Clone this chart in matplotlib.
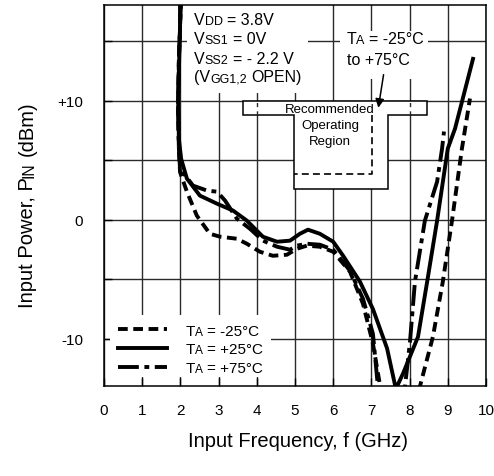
import matplotlib
matplotlib.use('Agg')
import matplotlib.pyplot as plt
from matplotlib.patches import Polygon, Rectangle
from matplotlib.transforms import IdentityTransform

plt.rcParams['font.family'] = 'Liberation Sans'
plt.rcParams['lines.scale_dashes'] = False

# Input sensitivity curves (GHz, dBm)
freq_m25 = [2.02, 1.96, 1.94, 1.96, 1.99, 2.17, 2.43, 2.77, 3.04, 3.48, 3.74, 4.08, 4.42,
            4.79, 5.05, 5.31, 5.65, 6.0, 6.44, 6.78, 7.04, 7.23, 7.7, 8.27, 8.61, 8.87,
            9.11, 9.37, 9.58]
pin_m25 = [18.6, 13.5, 9.3, 6.0, 4.0, 2.35, 0.34, -1.18, -1.43, -1.6, -2.02, -2.69, -3.03,
           -2.94, -2.44, -2.18, -2.27, -2.69, -4.37, -7.06, -10.4, -14.0, -17.0, -14.0,
           -9.83, -5.2, -0.08, 5.97, 10.17]

freq_p25 = [1.99, 1.99, 1.94, 1.96, 2.02, 2.17, 2.51, 2.96, 3.38, 3.74, 4.16, 4.53, 4.87,
            5.13, 5.34, 5.65, 6.0, 6.26, 6.70, 7.04, 7.41, 7.64, 7.83, 8.22, 8.46, 8.72,
            9.0, 9.19, 9.66]
pin_p25 = [18.6, 16.05, 10.17, 6.8, 5.1, 3.45, 2.02, 1.34, 0.76, -0.08, -1.43, -1.85, -1.76,
           -1.18, -0.84, -1.18, -1.85, -3.03, -5.2, -7.5, -10.8, -14.2, -12.9, -9.83, -5.2,
           -0.08, 5.97, 7.65, 13.5]

freq_p75 = [2.02, 1.96, 1.94, 1.96, 1.99, 2.33, 2.70, 2.96, 3.17, 3.48, 3.82, 4.16, 4.53,
            4.87, 5.05, 5.31, 5.65, 6.0, 6.44, 6.78, 7.04, 7.17, 7.5, 7.88, 8.01, 8.14,
            8.40, 8.72, 8.85, 8.90]
pin_p75 = [18.6, 13.5, 9.3, 6.0, 4.29, 2.86, 2.44, 2.35, 1.6, 0.08, -0.76, -1.76, -2.27,
           -2.52, -2.18, -2.02, -2.1, -2.52, -4.29, -6.64, -9.58, -14.0, -17.0, -14.0,
           -10.25, -5.2, -0.08, 3.19, 5.97, 7.4]

temps = ['-25', '+25', '+75']
freq_ticks = list(range(11))
pin_ticks = [-10, 0, 10]
pin_ticklabels = ['-10', '0', '+10']

# recommended operating region (T-shaped box) and the dashed inner window
rec_bar = (3.64, 8.46, 8.82, 10.0)
rec_stem = (4.97, 7.43, 2.6, 8.82)
rec_inner = (7.02, 3.87)

DASHED = (0, (7, 4))
DASHDOT = (0, (15, 4, 3.5, 4))
LW = 2.8


def rich_text(ax, x, y, parts, size, transform, ha='left', rotation=0):
    """Draw text made of pieces of different size (small caps subscripts)."""
    fig = ax.figure
    r = fig.canvas.get_renderer()

    def text_width(s, fs):
        t = fig.text(0, 0, s, fontsize=fs)
        w = t.get_window_extent(r).width
        t.remove()
        return w

    space = text_width('a a', size) - text_width('aa', size)
    items = []
    for s, k in parts:
        lead = len(s) - len(s.lstrip(' '))
        body = s.strip(' ')
        items.append((lead * space, body, size * k, text_width(body, size * k)))
    total = sum(g + w for g, _, _, w in items)
    x0, y0 = transform.transform((x, y))
    pos = {'left': 0, 'center': -total / 2, 'right': -total}[ha]
    for g, body, fs, w in items:
        pos += g
        px, py = (x0 + pos, y0) if rotation == 0 else (x0, y0 + pos)
        ax.text(px, py, body, fontsize=fs, transform=IdentityTransform(), ha='left',
                va='baseline', rotation=rotation, rotation_mode='anchor', zorder=6)
        pos += w


fig = plt.figure(figsize=(4.94, 4.77), dpi=100)
ax = fig.add_axes([104 / 494, 1 - 387 / 477, 382 / 494, 381 / 477])
ax.set_xlim(0, 10)
ax.set_ylim(-13.96, 18.02)

l1, = ax.plot(freq_m25, pin_m25, color='black', lw=LW, linestyle=DASHED, zorder=3)
l2, = ax.plot(freq_p25, pin_p25, color='black', lw=LW, zorder=3)
l3, = ax.plot(freq_p75, pin_p75, color='black', lw=LW, linestyle=DASHDOT, zorder=3)

# grid and axes
ax.set_axisbelow(True)
ax.set_xticks(freq_ticks)
ax.set_yticks(pin_ticks)
ax.set_yticklabels(pin_ticklabels)
ax.set_yticks([-5, 5, 15], minor=True)
ax.grid(True, which='both', color='#2a2a2a', lw=1.0)
ax.tick_params(which='both', direction='in', length=6, width=1.0, labelsize=11)
ax.tick_params(axis='x', pad=12)
ax.tick_params(axis='y', pad=15)
for sp in ax.spines.values():
    sp.set_linewidth(1.1)

# white masks behind the text blocks
ax.add_patch(Rectangle((2.17, 10.6), 3.16, 8.0, facecolor='white', edgecolor='none', zorder=1))
ax.add_patch(Rectangle((6.18, 11.85), 2.30, 3.95, facecolor='white', edgecolor='none', zorder=1))
ax.add_patch(Rectangle((0.15, -13.2), 4.22, 5.2, facecolor='white', edgecolor='none', zorder=1))

# recommended operating region
bx0, bx1, by0, by1 = rec_bar
sx0, sx1, sy0, sy1 = rec_stem
ax.add_patch(Polygon([(bx0, by1), (bx1, by1), (bx1, by0), (sx1, by0), (sx1, sy0),
                      (sx0, sy0), (sx0, by0), (bx0, by0)], closed=True,
                     facecolor='white', edgecolor='black', lw=1.1, zorder=2))
ax.vlines([4, 8], by0, by1, colors='#2a2a2a', lw=1.0, linestyles=(0, (3, 3)), zorder=2.1)
ax.plot([rec_inner[0], rec_inner[0], sx0], [by0, rec_inner[1], rec_inner[1]],
        color='black', lw=1.2, linestyle=(0, (5, 3)), zorder=2.2)
for txt, yy in zip(['Recommended', 'Operating', 'Region'], [9.08, 7.73, 6.39]):
    ax.text(5.92, yy, txt, fontsize=9.5, ha='center', va='baseline', zorder=6)

ax.annotate('', xy=(7.17, 9.16), xytext=(7.33, 12.4),
            arrowprops=dict(arrowstyle='-|>', color='black', lw=1.1, mutation_scale=13),
            zorder=6)

fig.canvas.draw()

# bias conditions
S = 0.78
rich_text(ax, 2.36, 16.39, [('V', 1), ('DD', S), (' = 3.8V', 1)], 11.5, ax.transData)
rich_text(ax, 2.36, 14.79, [('V', 1), ('SS1', S), (' = 0V', 1)], 11.5, ax.transData)
rich_text(ax, 2.36, 13.19, [('V', 1), ('SS2', S), (' = - 2.2 V', 1)], 11.5, ax.transData)
rich_text(ax, 2.36, 11.6, [('(V', 1), ('GG1,2', S), (' OPEN)', 1)], 11.5, ax.transData)

rich_text(ax, 6.35, 14.79, [('T', 1), ('A', S), (' = -25°C', 1)], 11.5, ax.transData)
rich_text(ax, 6.35, 13.1, [('to +75°C', 1)], 11.5, ax.transData)

# legend: handles from the library, labels drawn as rich text on the same rows
leg = ax.legend([l1, l2, l3], ['TA = %s°C' % t for t in temps], loc='upper left',
                bbox_to_anchor=(0.37, -8.74), bbox_transform=ax.transData, frameon=False,
                fontsize=11, handlelength=3.2, handletextpad=1.2, labelspacing=0.3,
                borderpad=0, borderaxespad=0)
for t in leg.get_texts():
    t.set_alpha(0)
fig.canvas.draw()
for t, temp in zip(leg.get_texts(), temps):
    bx, by = t.get_transform().transform(t.get_position())
    rich_text(ax, bx, by, [('T', 1), ('A', S), (' = %s°C' % temp, 1)], 11, IdentityTransform())

# axis titles
fig.text(298 / 494, 1 - 447 / 477, 'Input Frequency, f (GHz)', fontsize=14.5,
         ha='center', va='baseline')
rich_text(ax, 33 / 494, 1 - 205 / 477, [('Input Power, P', 1), ('IN', S), (' (dBm)', 1)],
          14.5, fig.transFigure, ha='center', rotation=90)

fig.savefig('out.png', dpi=100)
